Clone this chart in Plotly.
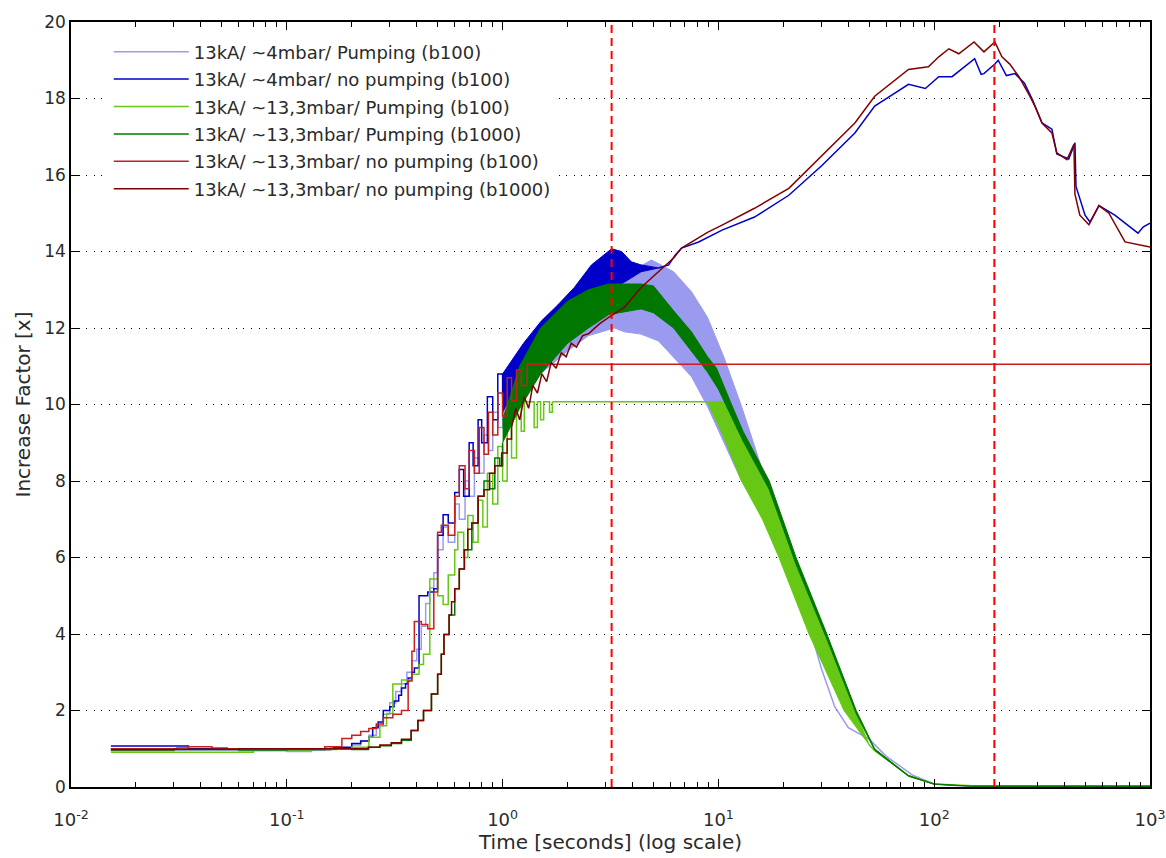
import plotly.graph_objects as go

# ---------------- data ----------------
names = [
    "13kA/ ~4mbar/ Pumping (b100)",
    "13kA/ ~4mbar/ no pumping (b100)",
    "13kA/ ~13,3mbar/ Pumping (b100)",
    "13kA/ ~13,3mbar/ Pumping (b1000)",
    "13kA/ ~13,3mbar/ no pumping (b100)",
    "13kA/ ~13,3mbar/ no pumping (b1000)",
]
colors = ["#9a9aee", "#0000c8", "#66c814", "#007800", "#c81e1e", "#800000"]

# --- 4 mbar, pumping (b100) : light blue
lb_rise_t = [0.0153, 0.03, 0.06, 0.1, 0.13, 0.16, 0.2, 0.22, 0.24, 0.26, 0.28, 0.3, 0.32, 0.34, 0.36,
             0.38, 0.4, 0.42, 0.44, 0.46, 0.48, 0.5, 0.53, 0.56, 0.6, 0.63, 0.67, 0.7, 0.74, 0.78,
             0.82, 0.86, 0.9, 0.95, 1.0]
lb_rise_v = [0.95, 0.97, 0.95, 0.93, 0.96, 1.02, 1.1, 1.2, 1.35, 1.6, 1.9, 2.2, 2.5, 2.7, 3.0,
             3.3, 3.6, 4.2, 4.8, 5.2, 5.6, 6.2, 6.8, 6.4, 7.4, 7.0, 8.0, 7.6, 8.6, 8.2,
             9.2, 8.8, 9.8, 9.4, 10.3]
lb_up_t = [1.0, 1.5, 2.0, 2.5, 3.3, 4.0, 4.9, 6.2, 7.5, 8.9, 10.6, 12.8, 15.6, 18.0]
lb_up_v = [10.6, 11.9, 12.5, 12.8, 13.1, 13.5, 13.78, 13.47, 12.95, 12.28, 11.24, 9.95, 8.47, 7.2]
lb_lo_t = [1.0, 1.5, 2.0, 2.5, 3.3, 3.67, 4.38, 5.28, 6.2, 7.5, 8.9, 10.6, 12.8, 15.6, 18.0]
lb_lo_v = [9.6, 10.8, 11.4, 11.8, 12.0, 11.9, 11.84, 11.66, 11.24, 10.73, 9.95, 9.0, 8.0, 7.3, 6.9]
lb_tail_t = [18.0, 20, 23, 27, 30, 34.6, 40, 50, 60, 80, 100, 130, 200, 400, 1000]
lb_tail_v = [7.05, 6.3, 5.2, 4.0, 3.1, 2.1, 1.55, 1.25, 0.8, 0.3, 0.08, 0.03, 0.02, 0.02, 0.02]

# --- 4 mbar, no pumping (b100) : blue
b_rise_t = [0.0153, 0.031, 0.035, 0.06, 0.1, 0.13, 0.165, 0.2, 0.22, 0.24, 0.25, 0.265, 0.28, 0.3,
            0.314, 0.33, 0.34, 0.355, 0.365, 0.38, 0.39, 0.41, 0.45, 0.48, 0.5, 0.53, 0.56, 0.6,
            0.63, 0.66, 0.7, 0.73, 0.77, 0.8, 0.85, 0.9, 0.95, 1.0]
b_rise_v = [1.07, 1.07, 1.0, 1.0, 0.98, 1.0, 1.04, 1.14, 1.2, 1.3, 1.55, 1.7, 2.0, 2.1,
            2.25, 2.4, 2.59, 2.7, 2.85, 3.0, 3.11, 5.0, 5.1, 5.18, 6.58, 7.12, 6.9, 7.7,
            8.3, 7.6, 9.0, 8.4, 9.6, 9.0, 10.2, 9.6, 10.8, 10.2]
b_up_t = [1.0, 1.25, 1.51, 1.8, 2.15, 2.58, 3.2, 3.56, 3.95, 4.38, 5.28]
b_up_v = [10.8, 11.6, 12.18, 12.6, 13.06, 13.65, 14.07, 14.0, 13.73, 13.65, 13.57]
b_lo_t = [1.0, 1.25, 1.51, 1.8, 2.15, 2.6, 3.1, 3.67, 4.38, 5.28]
b_lo_v = [9.8, 10.9, 11.66, 12.0, 12.44, 12.7, 12.95, 13.2, 13.47, 13.57]
b_tail_t = [5.28, 5.88, 6.3, 6.75, 8.1, 10.4, 14.7, 21.2, 30.1, 42.9, 53, 76, 91, 105, 121, 125,
            154, 165, 170, 191, 198, 216, 237, 262, 285, 316, 351, 370, 420, 449, 454, 500, 527,
            580, 687, 880, 929, 1000]
b_tail_v = [13.57, 13.65, 13.9, 14.09, 14.25, 14.56, 14.9, 15.47, 16.24, 17.1, 17.8, 18.37, 18.26,
            18.57, 18.57, 18.63, 19.04, 18.63, 18.65, 18.9, 19.0, 18.6, 18.65, 18.4, 17.97, 17.36,
            17.2, 16.55, 16.42, 16.84, 15.7, 14.95, 14.77, 15.2, 14.95, 14.48, 14.64, 14.74]

# --- 13,3 mbar, pumping (b100) : light green
lg_rise_t = [0.0153, 0.063, 0.07, 0.1, 0.13, 0.17, 0.2, 0.24, 0.27, 0.29, 0.31, 0.34, 0.38, 0.41,
             0.43, 0.46, 0.5, 0.53, 0.56, 0.6, 0.62, 0.66, 0.69, 0.73, 0.77, 0.81, 0.85, 0.9,
             0.95, 1.0, 1.05, 1.1, 1.16, 1.22, 1.26, 1.4, 1.45, 1.5, 1.55, 1.65, 1.7]
lg_rise_v = [0.91, 0.91, 1.0, 0.97, 0.98, 1.0, 1.04, 1.3, 1.6, 1.92, 2.69, 2.8, 2.95, 3.2,
             3.47, 5.44, 5.0, 4.77, 5.54, 6.2, 6.66, 6.0, 7.1, 6.4, 7.5, 6.8, 8.2, 7.4,
             8.9, 8.0, 9.5, 8.6, 10.0, 9.3, 10.07, 9.4, 10.07, 9.6, 10.07, 9.8, 10.07]
lg_flat_t = [1.7, 8.9]
lg_flat_v = [10.07, 10.07]
lg_up_t = [8.9, 10.9, 13.0, 17.0, 22.5, 31.3, 43.0, 50.0]
lg_up_v = [10.07, 10.07, 9.25, 8.0, 6.0, 4.0, 2.0, 1.1]
lg_lo_t = [8.9, 10.5, 12.8, 16.0, 19.1, 26.3, 38.2, 50.0]
lg_lo_v = [10.07, 9.2, 8.0, 7.0, 6.0, 4.0, 2.0, 1.1]
lg_tail_t = [50.0, 53, 76, 100, 150, 1000]
lg_tail_v = [1.1, 0.95, 0.3, 0.08, 0.03, 0.03]

# --- 13,3 mbar, pumping (b1000) : dark green
dg_rise_t = [0.0153, 0.03, 0.06, 0.1, 0.15, 0.2, 0.239, 0.27, 0.305, 0.34, 0.377, 0.405, 0.43,
             0.468, 0.5, 0.52, 0.535, 0.565, 0.6, 0.63, 0.665, 0.72, 0.77, 0.82, 0.87, 0.92,
             0.97, 1.0]
dg_rise_v = [0.97, 0.98, 0.97, 0.98, 1.0, 0.98, 1.04, 1.08, 1.14, 1.22, 1.48, 1.74, 2.0,
             2.43, 2.95, 3.47, 3.99, 4.5, 5.18, 5.7, 6.2, 6.9, 7.6, 8.0, 7.8, 8.6,
             8.4, 9.0]
dg_up_t = [1.0, 1.2, 1.5, 2.0, 2.5, 3.1, 4.38, 5.0, 6.2, 7.5, 8.9, 9.8, 11.5, 13.0, 17.2, 22.9,
           31.8, 43.5, 53, 76, 100, 150]
dg_up_v = [9.6, 11.0, 12.0, 12.7, 13.0, 13.15, 13.15, 13.1, 12.45, 11.9, 11.25, 10.95, 10.0, 9.3,
           8.0, 6.0, 4.0, 2.0, 1.0, 0.3, 0.08, 0.02]
dg_lo_t = [1.0, 1.2, 1.5, 2.0, 2.5, 3.1, 4.38, 5.0, 6.2, 7.5, 8.9, 10.0, 11.5, 13.0, 17.2, 22.9,
           31.8, 43.5, 53, 76, 100, 150]
dg_lo_v = [9.0, 9.9, 10.8, 11.6, 12.0, 12.35, 12.5, 12.4, 12.0, 11.4, 10.85, 10.4, 9.7, 9.05,
           7.78, 5.82, 3.87, 1.92, 0.96, 0.28, 0.07, 0.02]
dg_tail_t = [150, 1000]
dg_tail_v = [0.02, 0.02]

# --- 13,3 mbar, no pumping (b100) : red
r_rise_t = [0.0153, 0.031, 0.035, 0.045, 0.053, 0.06, 0.1, 0.15, 0.18, 0.2, 0.22, 0.24, 0.26,
            0.28, 0.31, 0.34, 0.365, 0.38, 0.39, 0.42, 0.45, 0.48, 0.5, 0.52, 0.56, 0.6, 0.63,
            0.67, 0.7, 0.74, 0.78, 0.82, 0.86, 0.9, 0.95, 1.0, 1.05, 1.1, 1.16, 1.22, 1.3, 1.36]
r_rise_v = [1.0, 1.02, 1.05, 1.02, 1.0, 1.0, 1.0, 1.05, 1.27, 1.35, 1.45, 1.53, 1.65,
            1.81, 1.9, 2.0, 2.77, 3.55, 4.33, 4.25, 4.14, 5.1, 6.66, 6.84, 6.58, 7.6, 8.4,
            7.8, 8.8, 8.2, 9.4, 8.7, 9.8, 9.2, 10.3, 9.7, 10.7, 10.1, 10.9, 10.5, 11.05, 11.05]
r_tail_t = [1.36, 1000]
r_tail_v = [11.05, 11.05]

# --- 13,3 mbar, no pumping (b1000) : dark red
dr_rise_t = [0.0153, 0.03, 0.06, 0.1, 0.15, 0.2, 0.239, 0.27, 0.305, 0.34, 0.377, 0.405, 0.43,
             0.468, 0.5, 0.52, 0.535, 0.565, 0.58, 0.6, 0.63, 0.665, 0.69, 0.72, 0.77, 0.82,
             0.87, 0.92, 0.99, 1.05, 1.1]
dr_rise_v = [0.98, 0.99, 1.0, 1.0, 1.0, 1.0, 1.04, 1.1, 1.16, 1.25, 1.48, 1.74, 2.0,
             2.43, 2.95, 3.47, 3.99, 4.5, 4.84, 5.18, 5.7, 6.2, 6.74, 6.9, 7.6, 7.77,
             8.2, 8.4, 8.73, 9.1, 9.4]
dr_tail_t = [1.1, 1.15, 1.2, 1.26, 1.32, 1.38, 1.45, 1.52, 1.6, 1.68, 1.77, 1.87, 1.97, 2.08,
             2.2, 2.35, 2.5, 2.8, 3.1, 3.67, 4.38, 5.28, 6.2, 6.75, 8.9, 10.4, 14.7, 21.2, 30.1,
             42.9, 53, 76, 94, 105, 117, 130, 153, 170, 191, 206, 224, 247, 275, 293, 316, 351,
             370, 412, 444, 449, 473, 521, 580, 645, 766, 1000]
dr_tail_v = [9.4, 9.9, 9.6, 10.2, 9.9, 10.5, 10.3, 10.8, 10.6, 11.1, 10.95, 11.35, 11.25, 11.6,
             11.5, 11.8, 11.85, 12.1, 12.28, 12.54, 13.06, 13.47, 13.83, 14.09, 14.5, 14.69,
             15.13, 15.65, 16.5, 17.36, 18.06, 18.76, 18.83, 19.09, 19.3, 19.17, 19.48, 19.22,
             19.48, 19.09, 18.9, 18.57, 18.1, 17.8, 17.36, 17.1, 16.58, 16.4, 16.8, 15.5, 14.95,
             14.7, 15.2, 15.0, 14.25, 14.12]

# marker lines (red dashed verticals)
vline_t = [3.2, 190]

x_decades = [0.01, 0.1, 1, 10, 100, 1000]
x_decade_labels = ["10<sup>-2</sup>", "10<sup>-1</sup>", "10<sup>0</sup>",
                   "10<sup>1</sup>", "10<sup>2</sup>", "10<sup>3</sup>"]
x_minor = [m * d for d in [0.01, 0.1, 1, 10, 100] for m in range(2, 10)]
y_ticks = list(range(0, 21, 2))

# ---------------- figure ----------------
fig = go.Figure()
LW = 1.5


def add_line(x, y, i, show=False, shape="linear"):
    fig.add_trace(go.Scatter(
        x=x, y=y, mode="lines", name=names[i], legendgroup=f"g{i}", showlegend=show,
        line=dict(color=colors[i], width=LW, shape=shape), hoverinfo="skip"))


def add_band(ut, uv, lt, lv, i):
    fig.add_trace(go.Scatter(
        x=list(ut) + list(lt)[::-1], y=list(uv) + list(lv)[::-1], mode="lines",
        fill="toself", fillcolor=colors[i], legendgroup=f"g{i}", showlegend=False,
        line=dict(color=colors[i], width=1), hoverinfo="skip"))


# light blue
add_line(lb_rise_t, lb_rise_v, 0, show=True, shape="hv")
add_band(lb_up_t, lb_up_v, lb_lo_t, lb_lo_v, 0)
add_line(lb_tail_t, lb_tail_v, 0)
# blue
add_line(b_rise_t, b_rise_v, 1, show=True, shape="hv")
add_band(b_up_t, b_up_v, b_lo_t, b_lo_v, 1)
add_line(b_tail_t, b_tail_v, 1)
# light green
add_line(lg_rise_t, lg_rise_v, 2, show=True, shape="hv")
add_line(lg_flat_t, lg_flat_v, 2)
add_band(lg_up_t, lg_up_v, lg_lo_t, lg_lo_v, 2)
add_line(lg_tail_t, lg_tail_v, 2)
# dark green
add_line(dg_rise_t, dg_rise_v, 3, show=True, shape="hv")
add_band(dg_up_t, dg_up_v, dg_lo_t, dg_lo_v, 3)
add_line(dg_tail_t, dg_tail_v, 3)
# red
add_line(r_rise_t, r_rise_v, 4, show=True, shape="hv")
add_line(r_tail_t, r_tail_v, 4)
# dark red
add_line(dr_rise_t, dr_rise_v, 5, show=True, shape="hv")
add_line(dr_tail_t, dr_tail_v, 5)

for t in vline_t:
    fig.add_trace(go.Scatter(x=[t, t], y=[0, 20], mode="lines", showlegend=False,
                             hoverinfo="skip",
                             line=dict(color="#ff0000", width=2, dash="8px,5px")))

txt = "#2a2a2a"
fig.update_layout(
    width=1166, height=858,
    margin=dict(l=71, r=16, t=15, b=71),
    paper_bgcolor="white", plot_bgcolor="white",
    font=dict(family="DejaVu Sans", size=17, color=txt),
    legend=dict(x=0.035, y=0.985, xanchor="left", yanchor="top", bgcolor="white",
                borderwidth=0, font=dict(size=18, color=txt), itemwidth=75,
                tracegroupgap=1, traceorder="grouped"),
    xaxis=dict(type="log", range=[-2, 3], tickmode="array", tickvals=x_decades,
               ticktext=x_decade_labels, ticks="inside", ticklen=8, tickwidth=1,
               tickcolor="black", showline=True, linecolor="black", linewidth=1.5,
               mirror="ticks", showgrid=False, zeroline=False, automargin=False,
               tickfont=dict(size=18, color=txt), ticklabelstandoff=16,
               minor=dict(tickmode="array", tickvals=x_minor, ticks="inside", ticklen=5,
                          tickcolor="black", showgrid=False),
               title=dict(text="Time [seconds] (log scale)", font=dict(size=20, color=txt),
                          standoff=4)),
    yaxis=dict(range=[0, 20], tickmode="array", tickvals=y_ticks, ticks="inside", ticklen=8,
               tickcolor="black", showline=True, linecolor="black", linewidth=1.5,
               mirror="ticks", showgrid=True, gridcolor="black", gridwidth=1,
               griddash="1px,6.5px", zeroline=False, tickfont=dict(size=17, color=txt),
               title=dict(text="Increase Factor [x]", font=dict(size=20, color=txt),
                          standoff=8)),
    showlegend=True,
)

fig.write_html("out.html")
